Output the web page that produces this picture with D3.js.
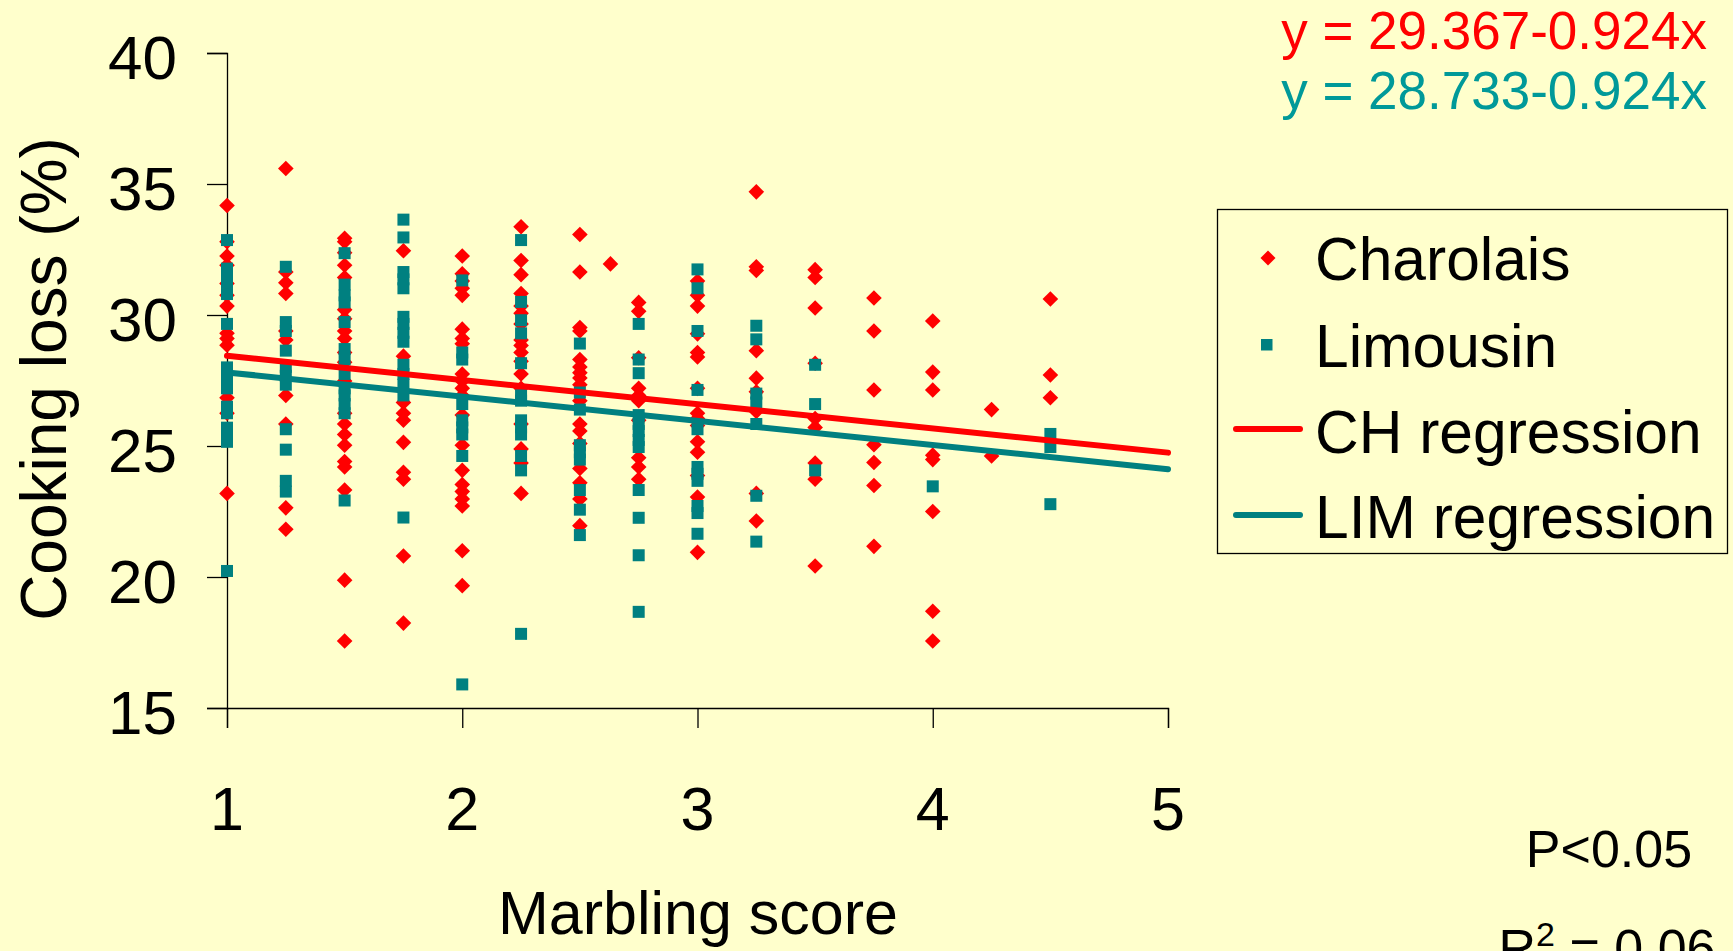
<!DOCTYPE html>
<html><head><meta charset="utf-8">
<script src="https://cdn.jsdelivr.net/npm/d3@7"></script>
<style>html,body{margin:0;padding:0;background:#FFFFCC;overflow:hidden}</style>
</head><body>
<svg id="chart" width="1733" height="951"></svg>
<script>
// ---- data (marbling score, cooking loss values) ----
const charolais = [
  [1, [34.18, 32.8, 32.25, 31.9, 31.2, 30.75, 30.34, 29.3, 29.1, 28.85, 26.84, 26.25, 23.19]],
  [1.25, [35.59, 31.64, 31.23, 30.82, 29.39, 29.05, 26.93, 25.84, 22.64, 21.82]],
  [1.5, [32.93, 32.8, 32.38, 31.9, 31.43, 30.2, 29.86, 29.39, 29.1, 28.57, 28.2, 27.48, 26.25, 25.84, 25.44, 25.03, 24.41, 24.2, 23.32, 19.88, 17.56]],
  [1.75, [32.45, 28.43, 26.66, 26.25, 25.98, 25.14, 24.0, 23.73, 20.8, 18.24]],
  [2, [32.25, 31.57, 31.3, 31.02, 30.75, 29.46, 29.1, 28.9, 27.75, 27.48, 27.2, 26.93, 26.18, 25.03, 24.07, 23.53, 23.26, 22.98, 22.71, 21.0, 19.67]],
  [2.25, [33.37, 32.08, 31.54, 30.82, 30.34, 30.07, 29.66, 29.05, 28.84, 28.57, 28.23, 27.75, 27.2, 25.84, 24.89, 24.35, 23.19]],
  [2.5, [33.07, 31.64, 29.52, 29.39, 28.3, 28.02, 27.8, 27.6, 27.34, 26.73, 25.84, 25.57, 25.1, 24.14, 23.6, 22.98, 21.96]],
  [2.63, [31.95]],
  [2.75, [30.48, 30.14, 28.37, 27.2, 26.93, 26.73, 25.98, 24.55, 24.2, 23.73]],
  [3, [31.3, 30.75, 30.34, 29.28, 28.57, 28.4, 27.2, 26.25, 26.05, 25.78, 25.16, 24.76, 23.87, 23.05, 20.94]],
  [3.25, [34.7, 31.84, 31.7, 28.64, 27.59, 27.07, 26.32, 23.19, 22.14]],
  [3.5, [31.73, 31.43, 30.27, 28.16, 26.05, 25.71, 24.35, 23.73, 20.42]],
  [3.75, [30.65, 29.39, 27.14, 25.05, 24.37, 23.49, 21.17]],
  [4, [29.77, 27.82, 27.14, 24.65, 24.48, 22.5, 18.69, 17.56]],
  [4.25, [26.39, 24.62]],
  [4.5, [30.61, 27.71, 26.84]]
];
const limousin = [
  [1, [32.86, 31.77, 31.5, 31.23, 30.8, 29.66, 28.0, 27.75, 27.5, 27.2, 26.5, 26.25, 25.7, 25.4, 25.16, 20.23]],
  [1.25, [31.84, 29.73, 29.39, 28.64, 28.02, 27.68, 27.34, 25.64, 24.86, 23.67, 23.26]],
  [1.5, [32.36, 31.16, 30.75, 30.48, 29.73, 28.7, 28.3, 27.75, 27.2, 26.93, 26.6, 26.25, 22.92]],
  [1.75, [33.64, 32.96, 31.64, 31.36, 31.02, 29.93, 29.66, 29.32, 28.98, 28.1, 27.75, 27.34, 26.93, 22.27]],
  [2, [31.32, 28.57, 28.3, 26.6, 25.98, 25.71, 25.44, 24.62, 15.9]],
  [2.25, [32.86, 30.5, 29.8, 29.3, 28.16, 26.93, 26.73, 25.98, 25.71, 25.44, 24.62, 24.07, 17.83]],
  [2.5, [28.91, 27.04, 26.39, 25.03, 24.76, 24.48, 23.32, 22.57, 21.6]],
  [2.75, [29.66, 28.3, 27.78, 26.18, 25.84, 25.57, 25.23, 24.96, 23.32, 22.26, 20.83, 18.67]],
  [3, [31.74, 31.02, 29.39, 27.14, 25.64, 24.2, 23.94, 23.67, 22.71, 22.44, 21.65]],
  [3.25, [29.59, 29.07, 27.0, 26.66, 25.84, 23.1, 21.35]],
  [3.5, [28.1, 26.6, 24.07]],
  [4, [23.46]],
  [4.5, [25.46, 24.96, 22.78]]
];
const chRegression = {intercept: 29.367, slope: -0.924};
const limRegression = {intercept: 28.733, slope: -0.924};
const xTicks = [1, 2, 3, 4, 5];
const yTicks = [15, 20, 25, 30, 35, 40];
const legendLabels = ["Charolais", "Limousin", "CH regression", "LIM regression"];
const equationLabels = ["y = 29.367-0.924x", "y = 28.733-0.924x"];

// ---- drawing ----
const RED = "#FF0000", TEAL = "#008080", TEAL_TXT = "#009999";
const FONT = "'Liberation Sans', Arial, Helvetica, sans-serif";
const svg = d3.select("#chart").style("font-family", FONT);
svg.append("rect").attr("width", 1733).attr("height", 951).attr("fill", "#FFFFCC");

const x = d3.scaleLinear().domain([1, 5]).range([227, 1168]);
const y = d3.scaleLinear().domain([15, 40]).range([708, 53]);

const flat = arr => arr.flatMap(([s, vals]) => vals.map(v => ({x: s, y: v})));
const chPts = flat(charolais), limPts = flat(limousin);

// axes
const yAxis = svg.append("g").attr("transform", `translate(${x(1)},0)`)
  .call(d3.axisLeft(y).tickValues(yTicks).tickSize(20).tickFormat(""));
const xAxis = svg.append("g").attr("transform", `translate(0,${y(15)})`)
  .call(d3.axisBottom(x).tickValues(xTicks).tickSize(20).tickFormat(""));
[yAxis, xAxis].forEach(g => {
  g.select(".domain").attr("stroke", "#000").attr("stroke-width", 1.3);
  g.selectAll(".tick line").attr("stroke", "#000").attr("stroke-width", 1.3);
});
svg.selectAll(".ylab").data(yTicks).join("text")
  .attr("x", 177).attr("y", d => y(d) + 26)
  .attr("text-anchor", "end").attr("font-size", 62).attr("fill", "#000")
  .text(d => d);
svg.selectAll(".xlab").data(xTicks).join("text")
  .attr("x", d => x(d)).attr("y", 830)
  .attr("text-anchor", "middle").attr("font-size", 61).attr("fill", "#000")
  .text(d => d);

// axis titles
svg.append("text").attr("transform", "translate(66,379) rotate(-90)")
  .attr("text-anchor", "middle").attr("font-size", 64).text("Cooking loss (%)");
svg.append("text").attr("x", 698).attr("y", 934)
  .attr("text-anchor", "middle").attr("font-size", 61).text("Marbling score");

// points
const diamond = (cx, cy, r) => `M${cx},${cy - r}L${cx + r},${cy}L${cx},${cy + r}L${cx - r},${cy}Z`;
svg.append("g").selectAll("path").data(chPts).join("path")
  .attr("d", d => diamond(x(d.x), y(d.y), 7.8)).attr("fill", RED);
svg.append("g").selectAll("rect").data(limPts).join("rect")
  .attr("x", d => x(d.x) - 6).attr("y", d => y(d.y) - 6)
  .attr("width", 12).attr("height", 12).attr("fill", TEAL);

// regression lines
[[chRegression, RED], [limRegression, TEAL]].forEach(([r, c]) => {
  svg.append("line")
    .attr("x1", x(1)).attr("y1", y(r.intercept + r.slope * 1))
    .attr("x2", x(5)).attr("y2", y(r.intercept + r.slope * 5))
    .attr("stroke", c).attr("stroke-width", 6).attr("stroke-linecap", "round");
});

// equations
svg.selectAll(".eq").data(equationLabels).join("text")
  .attr("x", 1707).attr("y", (d, i) => 49 + i * 60)
  .attr("text-anchor", "end").attr("font-size", 53)
  .attr("fill", (d, i) => i === 0 ? RED : TEAL_TXT).text(d => d);

// legend
const lg = svg.append("g");
lg.append("rect").attr("x", 1217.5).attr("y", 209.5).attr("width", 510).attr("height", 344)
  .attr("fill", "none").attr("stroke", "#000").attr("stroke-width", 1.3);
const rowBase = [280, 367, 453, 538];
lg.selectAll("text").data(legendLabels).join("text")
  .attr("x", 1315).attr("y", (d, i) => rowBase[i])
  .attr("font-size", 60.5).attr("fill", "#000").text(d => d);
lg.append("path").attr("d", diamond(1268, 258, 7.5)).attr("fill", RED);
lg.append("rect").attr("x", 1261).attr("y", 339).attr("width", 11.5).attr("height", 11.5).attr("fill", TEAL);
lg.append("line").attr("x1", 1236).attr("x2", 1300).attr("y1", 429).attr("y2", 429)
  .attr("stroke", RED).attr("stroke-width", 6).attr("stroke-linecap", "round");
lg.append("line").attr("x1", 1236).attr("x2", 1300).attr("y1", 515).attr("y2", 515)
  .attr("stroke", TEAL).attr("stroke-width", 6).attr("stroke-linecap", "round");

// stats
svg.append("text").attr("x", 1609).attr("y", 867).attr("text-anchor", "middle")
  .attr("font-size", 52).text("P<0.05");
const r2 = svg.append("text").attr("x", 1607).attr("y", 966).attr("text-anchor", "middle")
  .attr("font-size", 52);
r2.append("tspan").text("R");
r2.append("tspan").attr("font-size", 34).attr("dy", -20).text("2");
r2.append("tspan").attr("dy", 20).text(" = 0.06");
</script>
</body></html>
